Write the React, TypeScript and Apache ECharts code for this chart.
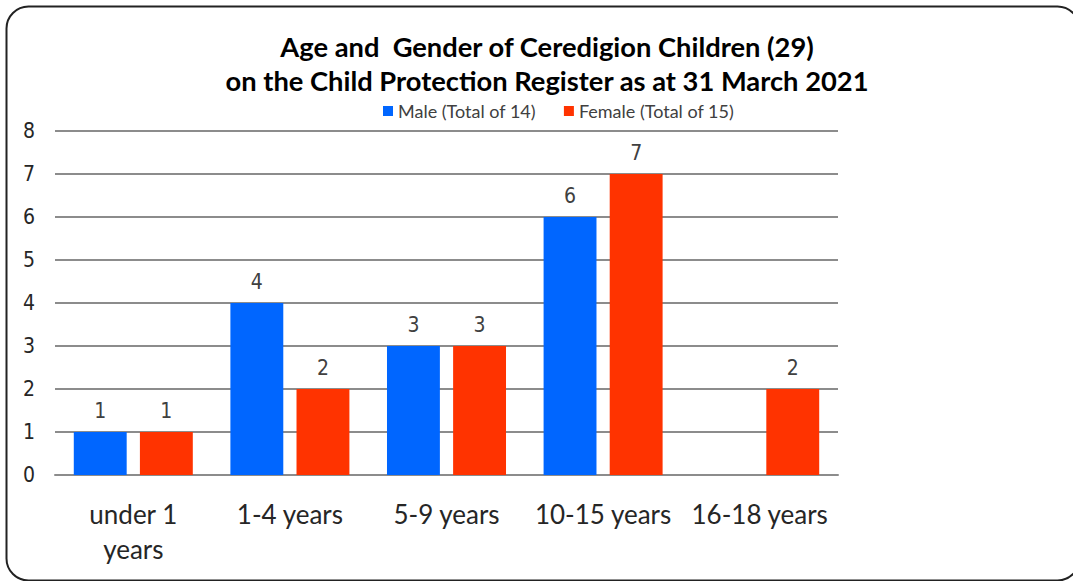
import React, { useEffect, useRef } from "react";
import * as echarts from "echarts";

const categories = ["under 1\nyears", "1-4 years", "5-9 years", "10-15 years", "16-18 years"];
const maleValues: (number | null)[] = [1, 4, 3, 6, null];
const femaleValues: (number | null)[] = [1, 2, 3, 7, 2];
const seriesNames = ["Male (Total of 14)", "Female (Total of 15)"];
const titleLines = [
  "Age and  Gender of Ceredigion Children (29)",
  "on the Child Protection Register as at 31 March 2021",
];

export default function App() {
  const ref = useRef<HTMLDivElement>(null);
  useEffect(() => {
    if (!ref.current) return;
    const chart = echarts.init(ref.current, null, { renderer: "svg" });
    const narrow = "'Liberation Sans Narrow', 'DejaVu Sans Condensed', 'Arial Narrow', sans-serif";
    const labelStyle = {
      show: true,
      position: "top",
      distance: 11,
      fontFamily: narrow,
      fontSize: 21,
      color: "#404040",
    };
    chart.setOption({
      animation: false,
      backgroundColor: "#ffffff",
      title: {
        text: titleLines.join("\n"),
        left: 542,
        top: 24,
        textAlign: "center",
        textStyle: {
          fontFamily: "Lato, 'Open Sans', sans-serif",
          fontWeight: "bold",
          fontSize: 27.3,
          lineHeight: 34,
          color: "#000000",
        },
      },
      legend: {
        top: 97,
        left: 378,
        itemWidth: 10,
        itemHeight: 10,
        itemGap: 28,
        icon: "rect",
        textStyle: {
          fontFamily: "Lato, 'Open Sans', sans-serif",
          fontSize: 18,
          color: "#404040",
        },
        data: seriesNames,
      },
      graphic: [
        {
          type: "rect",
          shape: { x: 6.5, y: 6.5, width: 1073, height: 574, r: 22 },
          style: { fill: "none", stroke: "#222222", lineWidth: 2 },
          z: 100,
        },
      ],
      grid: { left: 55, right: 1073 - 838, top: 131, bottom: 581 - 475, containLabel: false },
      xAxis: {
        type: "category",
        data: categories,
        axisLine: { show: true, lineStyle: { color: "#8c8c8c", width: 2 } },
        axisTick: { show: false },
        axisLabel: {
          fontFamily: "Lato, 'Open Sans', sans-serif",
          fontSize: 26,
          color: "#262626",
          lineHeight: 35,
          margin: 21,
          interval: 0,
        },
      },
      yAxis: {
        type: "value",
        min: 0,
        max: 8,
        interval: 1,
        axisLine: { show: false },
        axisTick: { show: false },
        splitLine: { lineStyle: { color: "#8c8c8c", width: 2 } },
        axisLabel: {
          fontFamily: narrow,
          fontSize: 21,
          color: "#262626",
          margin: 20,
        },
      },
      series: [
        {
          name: seriesNames[0],
          type: "bar",
          data: maleValues,
          barGap: "25%",
          barCategoryGap: "24%",
          itemStyle: { color: "#0066FF" },
          label: labelStyle,
        },
        {
          name: seriesNames[1],
          type: "bar",
          data: femaleValues,
          barGap: "25%",
          barCategoryGap: "24%",
          itemStyle: { color: "#FF3300" },
          label: labelStyle,
        },
      ],
    });
    return () => chart.dispose();
  }, []);
  return (
    <div
      ref={ref}
      style={{ position: "fixed", left: 0, top: 0, width: 1073, height: 581, background: "#fff" }}
    />
  );
}
